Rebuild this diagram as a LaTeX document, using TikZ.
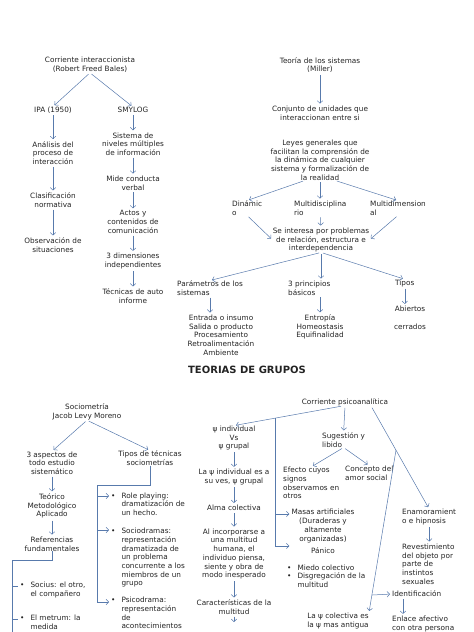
\documentclass[tikz,border=0pt]{standalone}
\usepackage{fontspec}
\setmainfont{DejaVu Sans}
\usetikzlibrary{arrows.meta, calc, positioning}
\definecolor{linkblue}{RGB}{88,122,172}
\definecolor{inkgray}{RGB}{35,35,35}
\newcommand{\blist}[1]{\begin{tabular}{@{}l@{\hspace{6pt}}l@{}}#1\end{tabular}}

\begin{document}
\begin{tikzpicture}[x=1pt,y=-1pt,font=\fontsize{7.3}{8.7}\selectfont,
    txt/.style={align=center,inner sep=0pt,text=inkgray},
    ltxt/.style={align=left,inner sep=0pt,anchor=west,text=inkgray},
    link/.style={draw=linkblue,line width=0.5pt,-{Straight Barb[length=2.6pt,width=5.5pt]},
                 shorten <=2pt,shorten >=2pt},
    rail/.style={draw=linkblue,line width=0.6pt}]
    \useasboundingbox (0,0) rectangle (474,632);

    % interaccionista
    \node[txt] (ci) at (90,65) {Corriente interaccionista\\(Robert Freed Bales)};
    \node[txt] (ipa) at (53,110) {IPA (1950)};
    \node[txt] (smy) at (133,110) {SMYLOG};
    \node[txt] (ana) at (53,153) {Análisis del\\proceso de\\interacción};
    \node[txt] (cla) at (53,200) {Clasificación\\normativa};
    \node[txt] (obs) at (53,245) {Observación de\\situaciones};
    \node[txt] (sis) at (133,144) {Sistema de\\niveles múltiples\\de información};
    \node[txt] (mide) at (133,183) {Mide conducta\\verbal};
    \node[txt] (act) at (133,222) {Actos y\\contenidos de\\comunicación};
    \node[txt] (dim) at (133,261) {3 dimensiones\\independientes};
    \node[txt] (tec) at (133,296) {Técnicas de auto\\informe};
    \draw[link] (ci.south) -- (ipa.north);
    \draw[link] (ci.south) -- (smy.north);
    \foreach \a/\b in {ipa/ana,ana/cla,cla/obs,smy/sis,sis/mide,mide/act,act/dim,dim/tec}
        \draw[link] (\a) -- (\b);

    % sistemas
    \node[txt] (tds) at (320,65) {Teoría de los sistemas\\(Miller)};
    \node[txt] (conj) at (320,113) {Conjunto de unidades que\\interaccionan entre si};
    \node[txt] (leyes) at (320,160) {Leyes generales que\\facilitan la comprensión de\\la dinámica de cualquier\\sistema y formalización de\\la realidad};
    \node[ltxt] (din) at (232,208) {Dinámic\\o};
    \node[ltxt] (mdis) at (294,208) {Multidisciplina\\rio};
    \node[ltxt] (mdim) at (370,208) {Multidimension\\al};
    \node[txt] (inter) at (321,240) {Se interesa por problemas\\de relación, estructura e\\interdependencia};
    \node[ltxt] (par) at (177,288) {Parámetros de los\\sistemas};
    \node[ltxt] (tres) at (288,288) {3 principios\\básicos};
    \node[ltxt] (tipos) at (395,283) {Tipos};
    \node[txt] (entr) at (221,335) {Entrada o insumo\\Salida o producto\\Procesamiento\\Retroalimentación\\Ambiente};
    \node[txt] (entro) at (320,327) {Entropía\\Homeostasis\\Equifinalidad};
    \node[txt] (abi) at (410,309) {Abiertos};
    \node[txt] (cer) at (410,327) {cerrados};
    \draw[link] (tds) -- (conj);
    \draw[link] ([xshift=-15pt]leyes.south) -- (din.north);
    \draw[link] (leyes.south) -- (leyes.south |- mdis.north);
    \draw[link] ([xshift=15pt]leyes.south) -- (mdim.north);
    \draw[link] (din.south) -- (inter.west);
    \draw[link] (mdis) -- (inter);
    \draw[link] (mdim.south) -- (inter.east);
    \draw[link] (inter.south) -- (par.north);
    \draw[link] (inter.south) -- (inter.south |- tres.north);
    \draw[link] (inter.south) -- (tipos.north);
    \draw[link] (par.south) -- (par.south |- entr.north);
    \draw[link] (entro.north |- tres.south) -- (entro.north);
    \draw[link] (tipos.south) -- (tipos.south |- abi.north);

    \node[txt,font=\fontsize{10}{12}\selectfont\bfseries] (title) at (247,370) {TEORIAS DE GRUPOS};

    % sociometria
    \node[txt] (soc) at (87,412) {Sociometría\\Jacob Levy Moreno};
    \node[txt] (asp) at (52,463) {3 aspectos de\\todo estudio\\sistemático};
    \node[txt] (tip) at (150,458) {Tipos de técnicas\\sociometrías};
    \node[txt] (teo) at (52,506) {Teórico\\Metodológico\\Aplicado};
    \node[txt] (refs) at (52,544) {Referencias\\fundamentales};
    \node[ltxt] (socius) at (20,590) {\blist{\textbullet & Socius: el otro,\\ & el compañero}};
    \node[ltxt] (metrum) at (20,623) {\blist{\textbullet & El metrum: la\\ & medida}};
    \node[ltxt] (role) at (111,505) {\blist{\textbullet & Role playing:\\ & dramatización de\\ & un hecho.}};
    \node[ltxt] (sdr) at (111,558) {\blist{\textbullet & Sociodramas:\\ & representación\\ & dramatizada de\\ & un problema\\ & concurrente a los\\ & miembros de un\\ & grupo}};
    \node[ltxt] (pdr) at (111,614) {\blist{\textbullet & Psicodrama:\\ & representación\\ & de\\ & acontecimientos}};
    \draw[link] (soc.south) -- (asp.north);
    \draw[link] (soc.south) -- (tip.north);
    \draw[link] (asp) -- (teo);
    \draw[link] (teo) -- (refs);
    \coordinate (tk) at (97,485);
    \coordinate (r1) at (97,496);
    \coordinate (r2) at (97,530);
    \coordinate (r3) at (97,602);
    \draw[rail] (tip.south) |- (tk) -- (r3);
    \draw[link,shorten <=0pt] (r1) -- (r1 -| role.west);
    \draw[link,shorten <=0pt] (r2) -- (r2 -| sdr.west);
    \draw[link,shorten <=0pt] (r3) -- (r3 -| pdr.west);
    \coordinate (sk) at (12,560);
    \coordinate (s1) at (12,586);
    \coordinate (s2) at (12,619);
    \coordinate (send) at (12,632);
    \draw[rail] (refs.south) |- (sk) -- (send);
    \draw[rail,shorten >=2pt] (s1) -- (s1 -| socius.west);
    \draw[rail,shorten >=2pt] (s2) -- (s2 -| metrum.west);

    % psicoanalitica
    \node[txt] (cps) at (345,402) {Corriente psicoanalítica};
    \node[txt] (psi) at (234,438) {ψ individual\\Vs\\ψ grupal};
    \node[txt] (laind) at (234,477) {La ψ individual es a\\su ves, ψ grupal};
    \node[txt] (alma) at (234,508) {Alma colectiva};
    \node[txt] (incorp) at (234,554) {Al incorporarse a\\una multitud\\humana, el\\individuo piensa,\\siente y obra de\\modo inesperado};
    \node[txt] (carac) at (234,607) {Características de la\\multitud};
    \coordinate (cend) at (234,624);
    \node[ltxt] (sug) at (322,440) {Sugestión y\\libido};
    \node[ltxt] (efe) at (283,483) {Efecto cuyos\\signos\\observamos en\\otros};
    \node[ltxt] (conc) at (345,473) {Concepto del\\amor social};
    \node[txt] (masas) at (323,526) {Masas artificiales\\(Duraderas y\\altamente\\organizadas)};
    \node[txt] (pan) at (323,551) {Pánico};
    \node[ltxt] (miedo) at (287,577) {\blist{\textbullet & Miedo colectivo\\\textbullet & Disgregación de la\\ & multitud}};
    \node[ltxt] (ena) at (402,517) {Enamoramient\\o e hipnosis};
    \node[ltxt] (rev) at (402,564) {Revestimiento\\del objeto por\\parte de\\instintos\\sexuales};
    \node[ltxt] (ide) at (392,594) {Identificación};
    \node[ltxt] (enl) at (392,624) {Enlace afectivo\\con otra persona};
    \node[txt] (lacol) at (338,621) {La ψ colectiva es\\la ψ mas antigua};
    \foreach \a/\b in {psi/laind,laind/alma,alma/incorp,incorp/carac,carac/cend}
        \draw[link] (\a) -- (\b);
    \draw[link] ([xshift=-2pt]cps.south) -- (psi.north);
    \coordinate (v0) at ($([xshift=-2pt]cps.south)!0.62!(psi.north)$);
    \coordinate (v1) at (v0 |- 0,514);
    \coordinate (v2) at (v0 |- 0,546);
    \draw[rail] (v0) -- (v2);
    \draw[link,shorten <=0pt] (v1) -- (v1 -| masas.west);
    \draw[link,shorten <=0pt] (v2) -- (v2 -| masas.west);
    \draw[link] (cps.south) -- (sug.north);
    \draw[link] (sug.south) -- (efe.north);
    \draw[link] (sug.south) -- (conc.north);
    \coordinate (e0) at ([xshift=26pt]cps.south);
    \draw[link] (e0) -- (ena.north);
    \coordinate (br) at ($(e0)!0.43!(ena.north)$);
    \draw[link,shorten <=0pt] (br) -- (lacol.north east);
    \coordinate (bi) at ($(br)!0.89!(lacol.north east)$);
    \draw[link,shorten <=0pt] (bi) -- (ide.west);
    \draw[link] (ena.south) -- (ena.south |- rev.north);
    \coordinate (i0) at ([xshift=11pt]ide.south west);
    \draw[link] (i0) -- (i0 |- enl.north);
\end{tikzpicture}
\end{document}
